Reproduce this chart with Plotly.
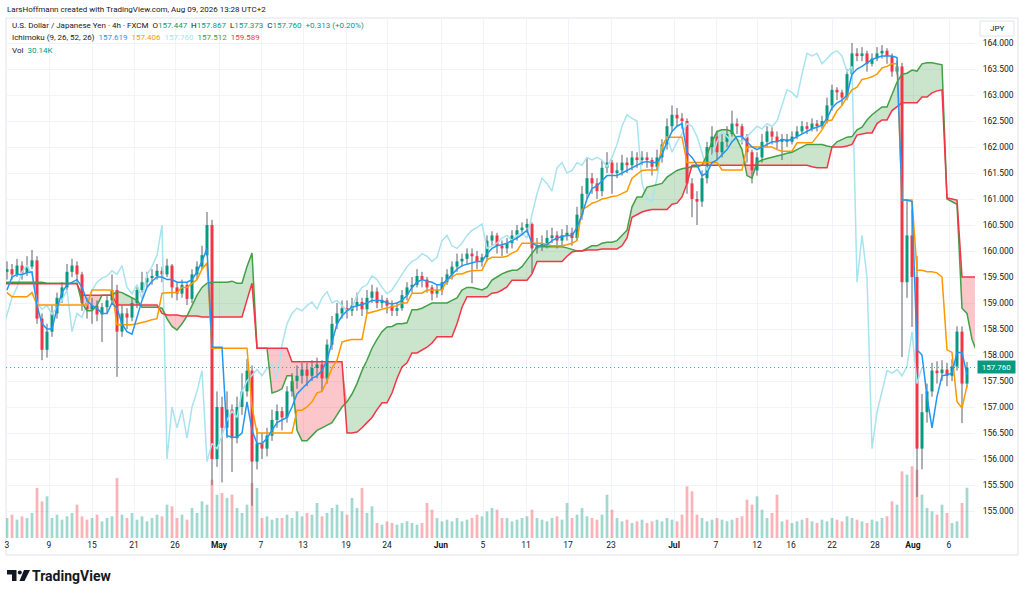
import plotly.graph_objects as go

# ---------------------------------------------------------------- data
# USD/JPY, one entry per ~12h slot (left -> right)
closes = [
    159.65, 159.55, 159.72, 159.58, 159.70, 159.82, 158.70, 158.10, 158.45, 158.80,
    159.10, 159.30, 159.60, 159.72, 159.55, 159.00, 158.88, 158.95, 158.78, 158.92,
    159.05, 159.25, 158.45, 158.80, 158.72, 159.00, 159.25, 159.40, 159.48, 159.52,
    159.62, 159.55, 159.72, 159.30, 159.18, 159.35, 159.08, 159.55, 159.70, 159.92,
    160.50, 156.00, 157.00, 156.60, 156.95, 156.40, 157.00, 157.30, 157.70, 155.95,
    156.30, 156.20, 156.45, 156.75, 156.92, 156.80, 157.30, 157.50, 157.60, 157.72,
    157.60, 157.75, 157.82, 157.55, 158.20, 158.60, 158.80, 158.90, 158.85, 158.95,
    159.02, 158.88, 159.10, 159.22, 159.00, 159.05, 158.95, 158.85, 158.90, 159.15,
    159.30, 159.35, 159.52, 159.45, 159.30, 159.18, 159.25, 159.40, 159.55, 159.70,
    159.80, 159.85, 159.95, 159.90, 159.80, 159.88, 160.20, 160.30, 160.10, 160.05,
    160.15, 160.30, 160.40, 160.45, 160.52, 160.05, 160.10, 160.15, 160.25, 160.30,
    160.20, 160.30, 160.35, 160.25, 160.70, 161.10, 161.40, 161.30, 161.15, 161.60,
    161.70, 161.50, 161.55, 161.70, 161.65, 161.80, 161.75, 161.80, 161.75, 161.62,
    161.80, 162.05, 162.40, 162.62, 162.55, 162.50, 161.30, 161.00, 160.95, 161.40,
    162.00, 162.20, 161.90, 162.10, 162.25, 162.45, 162.40, 162.20, 161.90, 161.55,
    161.80, 162.10, 162.30, 162.20, 162.10, 162.15, 162.10, 162.20, 162.30, 162.40,
    162.35, 162.45, 162.40, 162.50, 162.80, 163.10, 163.05, 162.95, 163.40, 163.80,
    163.75, 163.80, 163.60, 163.70, 163.80, 163.85, 163.75, 163.45, 163.55, 159.40,
    160.30, 159.50, 156.20, 156.90, 157.30, 157.70, 157.65, 157.72, 157.60, 157.78,
    158.45, 157.45, 157.760,
]
highs = [
    159.80, 159.75, 159.85, 159.80, 159.90, 160.02, 159.90, 158.80, 158.60, 158.95,
    159.20, 159.40, 159.75, 159.85, 159.80, 159.60, 159.10, 159.10, 159.05, 159.00,
    159.15, 159.55, 159.35, 158.95, 158.90, 159.10, 159.35, 159.60, 159.60, 159.65,
    159.75, 159.70, 159.85, 159.75, 159.40, 159.45, 159.40, 159.65, 159.80, 160.10,
    160.75, 160.60, 157.30, 157.20, 157.30, 157.05, 157.20, 157.65, 157.92, 157.80,
    156.60, 156.50, 156.60, 156.95, 157.05, 157.00, 157.40, 157.65, 157.80, 157.85,
    157.85, 157.90, 157.95, 157.90, 158.30, 158.75, 159.00, 159.05, 159.05, 159.10,
    159.20, 159.10, 159.25, 159.35, 159.30, 159.15, 159.10, 159.05, 159.00, 159.25,
    159.40, 159.50, 159.65, 159.60, 159.50, 159.35, 159.35, 159.50, 159.65, 159.80,
    159.95, 159.95, 160.05, 160.05, 160.00, 159.95, 160.30, 160.38, 160.35, 160.20,
    160.25, 160.40, 160.50, 160.55, 160.62, 160.55, 160.25, 160.30, 160.40, 160.45,
    160.38, 160.42, 160.50, 160.45, 160.85, 161.25, 161.80, 161.50, 161.40, 161.75,
    161.90, 161.75, 161.70, 161.85, 161.80, 161.92, 161.90, 161.92, 161.90, 161.80,
    161.95, 162.15, 162.55, 162.80, 162.75, 162.65, 162.55, 161.40, 161.15, 161.55,
    162.10, 162.40, 162.30, 162.25, 162.40, 162.70, 162.55, 162.45, 162.25, 161.95,
    161.90, 162.25, 162.40, 162.38, 162.30, 162.25, 162.25, 162.30, 162.40, 162.50,
    162.48, 162.55, 162.52, 162.60, 162.95, 163.20, 163.15, 163.10, 163.50, 164.00,
    163.90, 163.92, 163.85, 163.80, 163.92, 163.96, 163.90, 163.80, 163.65, 163.62,
    160.98, 160.80, 159.90, 157.25, 157.45, 157.85, 157.88, 157.90, 157.85, 157.92,
    158.55, 158.55, 157.867,
]
lows = [
    159.45, 159.45, 159.50, 159.45, 159.52, 159.65, 158.60, 157.90, 157.95, 158.35,
    158.70, 159.00, 159.25, 159.50, 159.40, 158.85, 158.70, 158.60, 158.65, 158.25,
    158.80, 159.00, 157.58, 158.35, 158.50, 158.65, 158.90, 159.20, 159.30, 159.35,
    159.45, 159.40, 159.50, 159.10, 159.05, 159.10, 158.96, 159.00, 159.45, 159.65,
    159.90, 155.50, 155.85, 155.55, 156.40, 155.75, 156.30, 156.85, 157.20, 155.10,
    155.80, 156.00, 156.05, 156.35, 156.60, 156.55, 156.70, 157.20, 157.35, 157.45,
    157.40, 157.50, 157.55, 157.30, 157.45, 158.10, 158.50, 158.70, 158.70, 158.75,
    158.85, 158.75, 158.80, 159.00, 158.90, 158.90, 158.80, 158.75, 158.75, 158.85,
    159.05, 159.20, 159.30, 159.30, 159.20, 159.05, 159.10, 159.15, 159.35, 159.45,
    159.60, 159.70, 159.75, 159.38, 159.65, 159.70, 159.80, 160.10, 159.95, 159.90,
    159.95, 160.05, 160.20, 160.30, 160.35, 159.58, 159.95, 160.00, 160.05, 160.15,
    160.05, 160.10, 160.20, 160.10, 160.20, 160.60, 161.00, 161.10, 161.00, 161.05,
    161.50, 161.10, 161.40, 161.45, 161.50, 161.55, 161.60, 161.65, 161.60, 161.45,
    161.55, 161.70, 161.95, 162.30, 162.40, 162.35, 161.10, 160.65, 160.50, 160.85,
    161.30, 161.85, 161.75, 161.80, 162.00, 162.20, 162.25, 162.05, 161.70, 161.30,
    161.45, 161.70, 162.00, 162.05, 161.95, 161.75, 162.00, 162.05, 162.15, 162.25,
    162.25, 162.30, 162.30, 162.35, 162.45, 162.70, 162.90, 162.80, 162.90, 163.35,
    163.65, 163.65, 163.45, 163.55, 163.65, 163.70, 163.60, 163.35, 163.40, 157.96,
    159.10, 158.54, 155.27, 155.80, 156.70, 157.20, 157.45, 157.50, 157.40, 157.50,
    157.70, 156.69, 157.373,
]
first_open = 159.60
volumes_k = [
    12, 14, 11, 13, 12, 15, 30, 22, 25, 12,
    14, 11, 13, 15, 20, 13, 11, 12, 14, 10,
    12, 13, 36, 14, 12, 15, 11, 13, 10, 12,
    14, 13, 20, 19, 12, 14, 11, 18, 15, 22,
    20, 35, 26, 27, 24, 26, 18, 15, 20, 33,
    30, 12, 13, 11, 12, 12, 14, 12, 16, 13,
    15, 14, 21, 13, 15, 18, 20, 16, 14, 24,
    18, 30, 15, 19, 9, 8, 10, 9, 8, 9,
    10, 9, 8, 9, 21, 17, 12, 10, 11, 10,
    12, 10, 11, 12, 14, 13, 16, 18, 17, 12,
    12, 10, 11, 12, 13, 17, 12, 11, 10, 12,
    13, 11, 21, 12, 14, 18, 13, 12, 11, 14,
    26, 17, 12, 10, 11, 9, 10, 11, 9, 10,
    11, 10, 12, 11, 10, 14, 31, 28, 14, 12,
    10, 11, 12, 11, 10, 11, 12, 13, 23, 20,
    25, 17, 12, 15, 26, 10, 11, 9, 10, 11,
    12, 10, 9, 11, 10, 12, 11, 10, 13, 12,
    11, 10, 9, 11, 10, 12, 13, 22, 20, 40,
    38, 43, 41, 26, 18, 16, 14, 20, 15, 9,
    10, 21, 30.14,
]
tenkan = [
    159.25, 159.50, 159.55, 159.55, 159.58, 159.60, 158.95, 158.60, 158.50, 158.50,
    158.90, 159.20, 159.35, 159.40, 159.45, 159.30, 159.05, 158.95, 158.90, 158.80,
    158.80, 159.00, 158.90, 158.60, 158.45, 158.40, 158.75, 159.05, 159.30, 159.42,
    159.50, 159.50, 159.45, 159.45, 159.40, 159.40, 159.40, 159.45, 159.60, 159.80,
    160.05, 158.15, 158.15, 158.15, 156.45, 156.42, 156.42, 156.50, 157.10, 156.55,
    156.30, 156.30, 156.40, 156.55, 156.70, 156.75, 156.80, 157.00, 157.25, 157.35,
    157.45, 157.55, 157.60, 157.70, 157.90, 158.25, 158.60, 158.75, 158.85, 158.92,
    158.95, 158.97, 159.00, 159.05, 159.05, 159.05, 159.00, 158.98, 159.00, 159.05,
    159.15, 159.30, 159.40, 159.45, 159.42, 159.40, 159.35, 159.35, 159.45, 159.55,
    159.65, 159.72, 159.75, 159.78, 159.80, 159.80, 159.95, 160.05, 160.10, 160.12,
    160.15, 160.20, 160.25, 160.32, 160.40, 160.15, 160.10, 160.10, 160.12, 160.20,
    160.25, 160.28, 160.30, 160.30, 160.45, 160.70, 161.00, 161.20, 161.25, 161.35,
    161.45, 161.45, 161.45, 161.50, 161.55, 161.60, 161.65, 161.70, 161.72, 161.70,
    161.70, 161.85, 162.10, 162.30, 162.40, 162.45, 161.90, 161.80, 161.65, 161.45,
    161.50, 161.70, 161.75, 161.85, 161.95, 162.10, 162.20, 162.20, 162.10, 162.00,
    161.95, 162.00, 162.05, 162.10, 162.10, 162.15, 162.12, 162.15, 162.20, 162.25,
    162.30, 162.35, 162.38, 162.42, 162.55, 162.75, 162.85, 162.90, 163.00, 163.40,
    163.50, 163.55, 163.62, 163.68, 163.72, 163.75, 163.75, 163.75, 163.72, 160.98,
    160.98, 160.95, 158.10, 158.00, 157.20, 156.60, 157.20, 157.60, 157.62, 157.65,
    158.05, 158.05, 157.62,
]
kijun = [
    159.20, 159.12, 159.12, 159.12, 159.12, 159.20, 158.96, 158.96, 158.96, 158.96,
    158.96, 158.96, 158.96, 158.96, 158.96, 158.96, 158.96, 159.25, 159.25, 159.25,
    159.25, 159.25, 158.58, 158.58, 158.58, 158.58, 158.60, 158.62, 158.65, 158.68,
    158.70, 159.19, 159.20, 159.20, 159.20, 159.30, 159.30, 159.38, 159.45, 159.65,
    159.77, 158.13, 158.13, 158.13, 158.13, 158.13, 158.13, 158.13, 158.13, 157.00,
    156.50, 156.50, 156.50, 156.50, 156.50, 156.50, 156.50, 156.50, 156.94, 156.94,
    157.00, 157.10, 157.27, 157.30, 157.50, 157.75, 157.90, 158.25, 158.28, 158.30,
    158.30, 158.30, 158.80, 158.82, 158.85, 158.88, 158.90, 158.92, 158.95, 159.00,
    159.00, 159.19, 159.19, 159.19, 159.25, 159.25, 159.25, 159.25, 159.44, 159.50,
    159.56, 159.56, 159.60, 159.62, 159.63, 159.63, 159.83, 159.88, 159.88, 159.88,
    159.90, 159.96, 160.00, 160.15, 160.15, 160.15, 160.15, 160.15, 160.12, 160.10,
    160.10, 160.10, 160.12, 160.15, 160.20, 160.80, 160.85, 160.92, 160.95, 161.00,
    161.02, 161.05, 161.06, 161.10, 161.15, 161.40, 161.48, 161.55, 161.56, 161.56,
    161.56, 162.00, 162.19, 162.19, 162.19, 162.19, 161.70, 161.70, 161.70, 161.70,
    161.70, 161.70, 161.70, 161.56, 161.56, 161.56, 161.56, 161.56, 162.00, 162.00,
    162.00, 162.00, 162.00, 162.00, 161.95, 161.92, 161.92, 161.92, 162.08, 162.08,
    162.08, 162.08, 162.20, 162.33, 162.50, 162.52, 162.70, 162.80, 162.96, 163.10,
    163.15, 163.30, 163.32, 163.35, 163.40, 163.52, 163.55, 163.60, 163.60, 160.98,
    160.98, 160.98, 159.63, 159.63, 159.60, 159.60, 159.58, 159.50, 158.10, 158.05,
    157.10, 156.98, 157.41,
]
# leading spans, already displaced forward; first value sits at slot span_first_bar
span_first_bar = -2
span_a = [
    159.40, 159.40, 159.40, 159.40, 159.40, 159.40, 159.40, 159.40, 159.40, 159.40,
    159.38, 159.38, 159.38, 159.38, 159.38, 159.38, 159.38,
    159.00, 158.85, 158.85, 158.95, 159.15, 159.15, 159.15,
    159.22, 159.20, 159.15, 159.10, 159.05, 158.92, 158.92, 158.92, 158.92,
    158.90, 158.70, 158.55, 158.48, 158.60, 158.75,
    158.95, 159.15, 159.30, 159.38, 159.40, 159.40,
    159.40, 159.40, 159.42, 159.38, 159.38, 159.70, 159.96,
    158.13, 158.13, 158.13, 157.27, 157.30, 157.35, 157.60, 157.60,
    156.55, 156.35, 156.35, 156.45, 156.55, 156.60, 156.65, 156.70, 156.85, 157.00,
    157.10, 157.25, 157.45, 157.70, 157.90, 158.13, 158.30, 158.45,
    158.54, 158.55, 158.60, 158.60, 158.62, 158.87, 158.87, 158.90, 158.95, 159.00,
    159.00, 159.00, 159.00, 159.05, 159.10, 159.25,
    159.30, 159.30, 159.28, 159.25, 159.30, 159.44, 159.50, 159.56, 159.60,
    159.63, 159.63, 159.70, 159.83, 159.96,
    160.08, 160.08, 160.08, 160.08, 160.08, 160.08, 160.06, 160.03,
    160.00, 160.00, 160.05, 160.10, 160.10, 160.15, 160.17, 160.17, 160.20,
    160.30, 160.40, 160.85, 161.04, 161.04, 161.23, 161.25, 161.28, 161.30, 161.42,
    161.48, 161.55, 161.58, 161.60, 161.62, 161.62, 161.65, 161.85, 162.10, 162.30,
    162.33, 162.33, 162.30, 162.15, 161.95, 161.45, 161.40, 161.70,
    161.75, 161.78, 161.80, 161.82, 161.85, 161.88, 161.90, 161.95, 162.00, 162.05,
    162.05, 162.05, 162.05, 162.02, 162.00, 162.10, 162.15, 162.19, 162.20,
    162.33, 162.38, 162.52, 162.62, 162.70, 162.77, 162.77, 163.00, 163.25,
    163.40, 163.42, 163.48, 163.46, 163.60, 163.62, 163.62, 163.60, 163.58,
    161.00, 160.95, 160.90, 158.90, 158.80, 158.30, 158.05,
]
span_b = [
    159.37, 159.37, 159.37, 159.37, 159.37, 159.37, 159.37, 159.37, 159.37, 159.37,
    159.37, 159.37, 159.37, 159.37, 159.37, 159.37, 159.37,
    159.15, 159.15, 159.15, 159.15, 159.15, 159.15, 159.15,
    158.96, 158.96, 158.96, 158.96, 158.96, 158.96, 158.96, 158.96, 158.96,
    158.80, 158.77, 158.77, 158.77, 158.75, 158.75,
    158.75, 158.75, 158.73, 158.73, 158.73, 158.73,
    158.73, 158.73, 158.73, 158.73, 158.73, 159.06, 159.38,
    158.13, 158.13, 158.13, 158.13, 158.13, 158.13, 158.13, 157.87,
    157.87, 157.87, 157.87, 157.87, 157.87, 157.87, 157.87, 157.87, 157.87, 157.87,
    156.50, 156.50, 156.52, 156.60, 156.70, 156.80, 156.95, 157.08,
    157.08, 157.27, 157.55, 157.77, 157.85, 158.04, 158.04, 158.10, 158.15, 158.23,
    158.35, 158.35, 158.35, 158.35, 158.60, 158.92,
    159.12, 159.12, 159.12, 159.12, 159.12, 159.19, 159.20, 159.25, 159.31,
    159.44, 159.44, 159.44, 159.44, 159.56,
    159.80, 159.80, 159.80, 159.80, 159.80, 159.80, 159.90, 159.98,
    160.00, 160.00, 160.02, 160.02, 160.02, 160.04, 160.04, 160.04, 160.04,
    160.10, 160.25, 160.65, 160.70, 160.75, 160.78, 160.80, 160.80, 160.80, 160.80,
    160.90, 160.92, 161.04, 161.30, 161.65, 161.65, 161.65, 161.65, 161.65, 161.65,
    161.65, 161.65, 161.65, 161.65, 161.65, 161.65, 161.65, 161.65,
    161.65, 161.65, 161.65, 161.65, 161.65, 161.65, 161.65, 161.65, 161.65, 161.65,
    161.62, 161.60, 161.60, 161.60, 162.00, 162.00, 162.00, 162.02, 162.05,
    162.23, 162.25, 162.27, 162.27, 162.45, 162.52, 162.52, 162.70, 162.77,
    162.85, 162.85, 162.85, 162.85, 162.96, 162.96, 163.04, 163.08, 163.10,
    161.02, 161.00, 160.98, 159.50, 159.50, 159.50, 159.50,
]
chikou_shift = 9
time_tick_bars = [0.0, 8.4, 17.0, 25.4, 33.6, 42.4, 50.8, 59.2, 67.8, 76.0, 86.8, 95.2,
                  103.8, 112.2, 120.8, 133.4, 141.8, 150.0, 156.8, 165.0, 173.6, 181.2, 188.4]
time_tick_labels = ["3", "9", "15", "21", "26", "<b>May</b>", "7", "13", "19", "24", "<b>Jun</b>", "5",
                    "11", "17", "23", "<b>Jul</b>", "7", "12", "16", "22", "28", "<b>Aug</b>", "6"]
price_ticks = [155.0, 155.5, 156.0, 156.5, 157.0, 157.5, 158.0, 158.5, 159.0, 159.5,
               160.0, 160.5, 161.0, 161.5, 162.0, 162.5, 163.0, 163.5, 164.0]
last_price = 157.760

# ---------------------------------------------------------------- derived
n = len(closes)
assert len(highs) == n and len(lows) == n and len(volumes_k) == n
assert len(tenkan) == n and len(kijun) == n and len(span_a) == len(span_b)
bars = list(range(n))
opens = [first_open] + closes[:-1]
is_up = [c >= o for o, c in zip(opens, closes)]

UP, DOWN, WICK = "#089981", "#F23645", "#5d606b"
C_TENKAN, C_KIJUN, C_CHIKOU, C_A, C_B = "#2196F3", "#FF9800", "#a9e3f0", "#43A047", "#F23645"
TXT = "#131722"
GRID = "#f0f3fa"
FONT = "Roboto, Arial, sans-serif"

wick_x, wick_y = [], []
up_x, up_y, dn_x, dn_y = [], [], [], []
for i in bars:
    wick_x += [i, i, None]
    wick_y += [lows[i], highs[i], None]
    lo, hi = min(opens[i], closes[i]), max(opens[i], closes[i])
    hi = max(hi, lo + 0.02)
    if is_up[i]:
        up_x += [i, i, None]; up_y += [lo, hi, None]
    else:
        dn_x += [i, i, None]; dn_y += [lo, hi, None]

cloud_x = [span_first_bar + k for k in range(len(span_a))]
cloud_top = [max(a, b) for a, b in zip(span_a, span_b)]

fig = go.Figure()
# volume (primary y, hidden)
fig.add_trace(go.Bar(x=bars, y=volumes_k, width=0.55,
                     marker=dict(color=["rgba(8,153,129,0.38)" if u else "rgba(242,54,69,0.38)" for u in is_up],
                                 line=dict(width=0)),
                     yaxis="y", hoverinfo="skip"))
# cloud fills
fig.add_trace(go.Scatter(x=cloud_x, y=span_b, mode="lines", line=dict(width=0), yaxis="y2", hoverinfo="skip"))
fig.add_trace(go.Scatter(x=cloud_x, y=cloud_top, mode="lines", line=dict(width=0), fill="tonexty",
                         fillcolor="rgba(67,160,71,0.28)", yaxis="y2", hoverinfo="skip"))
fig.add_trace(go.Scatter(x=cloud_x, y=span_a, mode="lines", line=dict(width=0), yaxis="y2", hoverinfo="skip"))
fig.add_trace(go.Scatter(x=cloud_x, y=cloud_top, mode="lines", line=dict(width=0), fill="tonexty",
                         fillcolor="rgba(242,54,69,0.28)", yaxis="y2", hoverinfo="skip"))
# candles
fig.add_trace(go.Scatter(x=wick_x, y=wick_y, mode="lines", line=dict(color=WICK, width=1), yaxis="y2", hoverinfo="skip"))
fig.add_trace(go.Scatter(x=up_x, y=up_y, mode="lines", line=dict(color=UP, width=3), yaxis="y2", hoverinfo="skip"))
fig.add_trace(go.Scatter(x=dn_x, y=dn_y, mode="lines", line=dict(color=DOWN, width=3), yaxis="y2", hoverinfo="skip"))
# ichimoku lines
fig.add_trace(go.Scatter(x=[i - chikou_shift for i in bars], y=closes, mode="lines",
                         line=dict(color=C_CHIKOU, width=1.5), yaxis="y2", hoverinfo="skip"))
fig.add_trace(go.Scatter(x=cloud_x, y=span_a, mode="lines", line=dict(color=C_A, width=1.5), yaxis="y2", hoverinfo="skip"))
fig.add_trace(go.Scatter(x=cloud_x, y=span_b, mode="lines", line=dict(color=C_B, width=1.5), yaxis="y2", hoverinfo="skip"))
fig.add_trace(go.Scatter(x=bars, y=kijun, mode="lines", line=dict(color=C_KIJUN, width=1.5), yaxis="y2", hoverinfo="skip"))
fig.add_trace(go.Scatter(x=bars, y=tenkan, mode="lines", line=dict(color=C_TENKAN, width=1.5), yaxis="y2", hoverinfo="skip"))

# ---------------------------------------------------------------- layout helpers
PL, PT, PW, PH = 6, 18, 969, 520
def pxx(x):
    return (x - PL) / PW
def pxy(y):
    return (PT + PH - y) / PH

def path(points):
    return "M " + " L ".join(f"{pxx(a):.5f},{pxy(b):.5f}" for a, b in points) + " Z"

NB = "\u00a0"
def col(t, c):
    return f"<span style='color:{c}'>{t}</span>"

line1 = ("U.S. Dollar / Japanese Yen · 4h · FXCM" + NB * 2 +
         "O" + col("157.447", UP) + NB * 2 + "H" + col("157.867", UP) + NB * 2 +
         "L" + col("157.373", UP) + NB * 2 + "C" + col("157.760", UP) + NB * 2 +
         col("+0.313 (+0.20%)", UP))
line2 = ("Ichimoku (9, 26, 52, 26)" + NB * 2 + col("157.619", C_TENKAN) + NB * 2 +
         col("157.406", C_KIJUN) + NB * 2 + col("157.760", C_CHIKOU) + NB * 2 +
         col("157.512", C_A) + NB * 2 + col("159.589", C_B))
line3 = "Vol" + NB * 2 + col("30.14K", UP)

ann = []
def text(x, y, t, size=8.0, color=TXT, anchor="left", **kw):
    ann.append(dict(xref="paper", yref="paper", x=pxx(x), y=pxy(y), text=t, showarrow=False,
                    xanchor=anchor, yanchor="middle", font=dict(family=FONT, size=size, color=color), **kw))

text(5, 9, "LarsHoffmann created with TradingView.com, Aug 09, 2026 13:28 UTC+2", size=8.0)
text(10, 26, line1, size=8.0)
text(10, 38, line2, size=8.0)
text(10, 50, line3, size=8.0)
text(997, 28, "JPY", size=8.0, anchor="center")
text(30, 576, "<b>TradingView</b>", size=14, color="#131722")
ann.append(dict(xref="paper", yref="y2", x=pxx(996), y=last_price, text="157.760", showarrow=False,
                xanchor="center", yanchor="middle", bgcolor=UP, borderpad=1.5, width=34,
                font=dict(family=FONT, size=8.0, color="white")))

shapes = [
    dict(type="rect", xref="paper", yref="paper", x0=pxx(6), x1=pxx(1018), y0=pxy(555), y1=pxy(18),
         line=dict(color="#e0e3eb", width=1), fillcolor="rgba(0,0,0,0)", layer="below"),
    dict(type="rect", xref="paper", yref="paper", x0=pxx(980), x1=pxx(1014), y0=pxy(36), y1=pxy(21),
         line=dict(color="#e0e3eb", width=1), fillcolor="white", layer="above"),
    dict(type="line", xref="x", yref="y2", x0=-0.2, x1=193.6, y0=last_price, y1=last_price,
         line=dict(color="rgba(8,153,129,0.75)", width=1, dash="1px,3px"), layer="above"),
    # TradingView logo
    dict(type="path", xref="paper", yref="paper", path=path([(7, 570), (16.5, 570), (16.5, 581), (12, 581), (12, 574.5), (7, 574.5)]),
         fillcolor="#131722", line=dict(width=0)),
    dict(type="circle", xref="paper", yref="paper", x0=pxx(17.8), x1=pxx(21.8), y0=pxy(574.5), y1=pxy(570.5),
         fillcolor="#131722", line=dict(width=0)),
    dict(type="path", xref="paper", yref="paper", path=path([(24, 570), (30, 570), (24.5, 581), (19.5, 581)]),
         fillcolor="#131722", line=dict(width=0)),
]

fig.update_layout(
    template="none",
    width=1024, height=594,
    margin=dict(l=PL, r=1024 - PL - PW, t=PT, b=594 - PT - PH, autoexpand=False),
    paper_bgcolor="white", plot_bgcolor="white",
    font=dict(family=FONT, size=9, color=TXT),
    showlegend=False, hovermode=False,
    xaxis=dict(range=[-0.2, 193.6], tickmode="array", tickvals=time_tick_bars, ticktext=time_tick_labels,
               showgrid=True, gridcolor=GRID, gridwidth=1, zeroline=False, showline=False, ticks="",
               tickfont=dict(family=FONT, size=8.5, color=TXT), automargin=False, fixedrange=True),
    yaxis=dict(range=[0, 312], visible=False, showgrid=False, zeroline=False, fixedrange=True, automargin=False),
    yaxis2=dict(overlaying="y", side="right", range=[154.481, 164.481], tickmode="array",
                tickvals=price_ticks, ticktext=[f"{v:.3f}" for v in price_ticks],
                showgrid=True, gridcolor=GRID, gridwidth=1, zeroline=False, showline=False,
                ticks="outside", ticklen=5, tickcolor="rgba(0,0,0,0)",
                tickfont=dict(family=FONT, size=8.5, color=TXT), automargin=False, fixedrange=True),
    annotations=ann,
    shapes=shapes,
)

fig.write_html(
    "out.html",
    config={"displayModeBar": False, "staticPlot": True},
    post_script="document.body.style.margin='0';document.body.style.overflow='hidden';"
                "document.documentElement.style.overflow='hidden';",
)
